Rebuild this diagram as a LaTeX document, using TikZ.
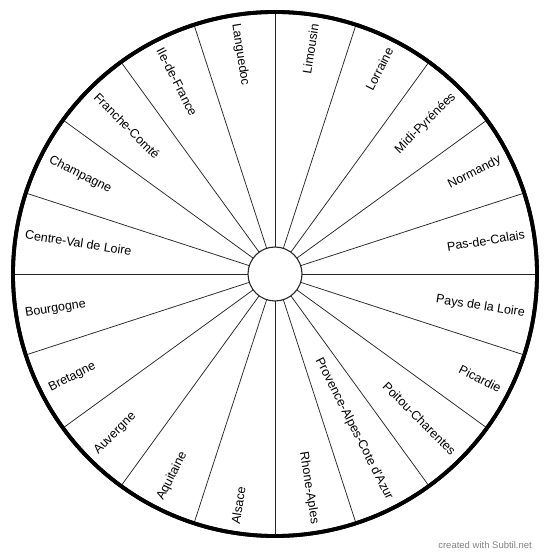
\documentclass[tikz,border=0pt]{standalone}
\usepackage{fontspec}
\setmainfont{Liberation Sans}
\begin{document}
\begin{tikzpicture}[x=1pt,y=1pt,
  lbl/.style={font=\fontsize{12.5}{14}\selectfont, inner sep=0pt},
  spoke/.style={draw=black!85, line width=0.75pt},
  rimstyle/.style={circle, draw=black, line width=3.8pt, minimum size=524pt, inner sep=0pt, outer sep=0pt},
  hubstyle/.style={circle, draw=black!85, line width=1.1pt, minimum size=54pt, inner sep=0pt, outer sep=0pt, fill=white}]
\useasboundingbox (-275,-285) rectangle (275,274);
\node[rimstyle] (rim) at (0,0) {};
\node[hubstyle] (hub) at (0,0) {};
\foreach \a in {0,18,...,342} \draw[spoke] (hub.\a) -- (rim.\a);
\node[rimstyle] at (rim.center) {};
\foreach \t/\m [count=\i] in {Limousin/81, Lorraine/63, Midi-Pyrénées/45, Normandy/27, Pas-de-Calais/9, Pays de la Loire/-9, Picardie/-27, Poitou-Charentes/-45, Provence-Alpes-Cote d\textquotesingle Azur/-63, Rhone-Aples/-81}
  \node[lbl, anchor=east, rotate=\m] (r\i) at (\m:253) {\t};
\foreach \t/\m [count=\i] in {Alsace/-99, Aquitaine/-117, Auvergne/-135, Bretagne/-153, Bourgogne/-171, Centre-Val de Loire/171, Champagne/153, Franche-Comté/135, Ile-de-France/117, Languedoc/99}
  \node[lbl, anchor=west, rotate=\m+180] (l\i) at (\m:253) {\t};
\node[anchor=east, text=black!50, font=\fontsize{9.5}{11}\selectfont, inner sep=0pt] (wm) at (257,-271) {created with Subtil.net};
\end{tikzpicture}
\end{document}
